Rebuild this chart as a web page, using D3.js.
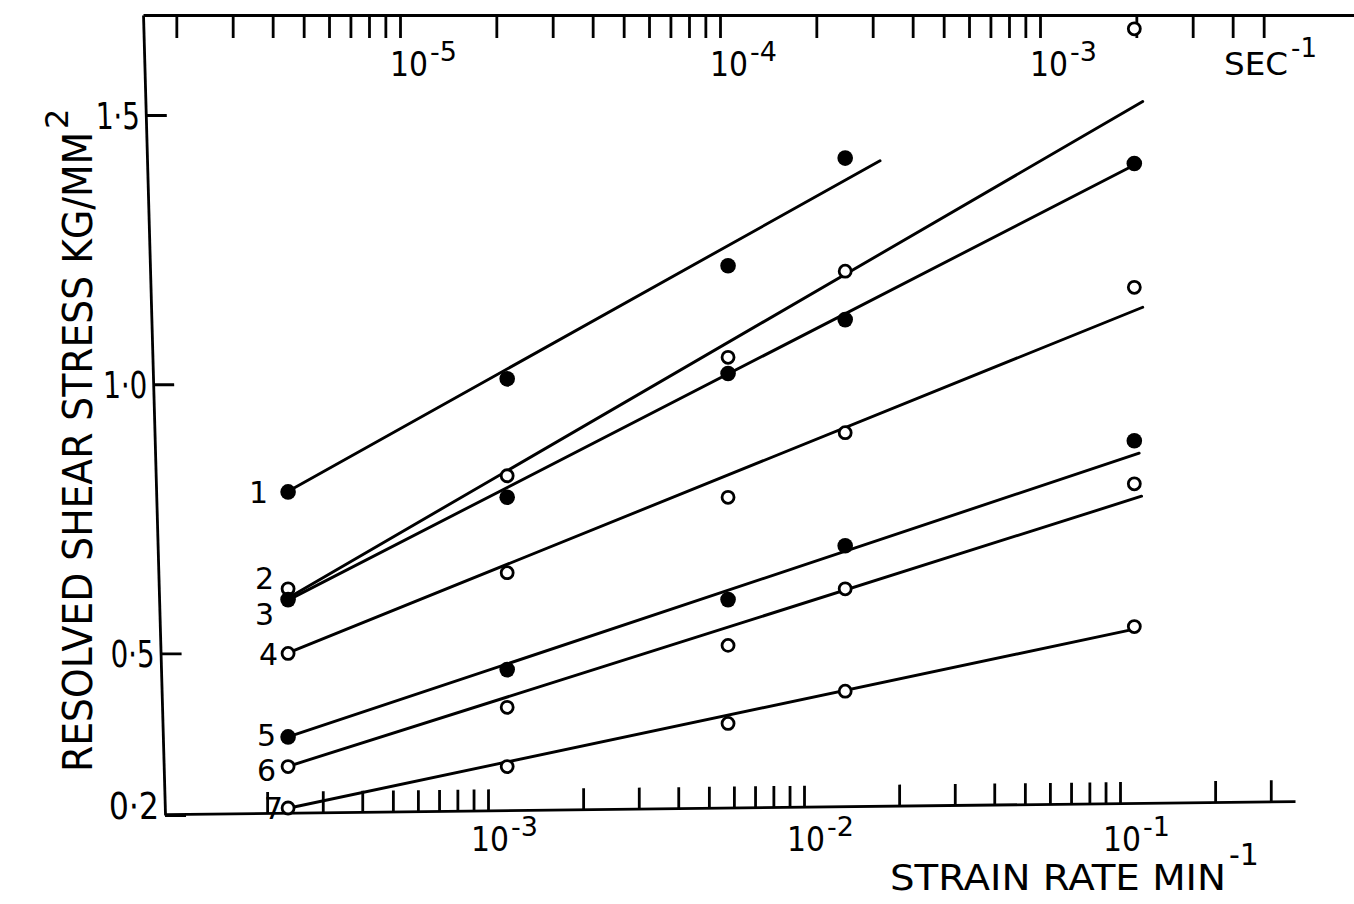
<!DOCTYPE html>
<meta charset="utf-8">
<script src="https://d3js.org/d3.v7.min.js"></script>
<style>
body { margin: 0; background: #fff; }
svg { display: block; }
.lettering { font-family: "DejaVu Sans", sans-serif; fill: #000; }
.ax path, .ax line { stroke: #000; stroke-width: 2.8; }
.fit { fill: none; stroke: #000; stroke-width: 2.9; }
</style>
<body>
<div id="canvas"></div>
<script>

// strain rate of each test column (min^-1)
var rates = [2.33e-4, 1.15e-3, 5.75e-3, 1.35e-2, 1.11e-1];

// resolved shear stress (kg/mm^2), one list per curve
var stress1 = [0.80, 1.01, 1.22, 1.42, null];
var stress2 = [0.62, 0.83, 1.05, 1.21, 1.66];
var stress3 = [0.60, 0.79, 1.02, 1.12, 1.41];
var stress4 = [0.50, 0.65, 0.79, 0.91, 1.18];
var stress5 = [0.345, 0.47, 0.60, 0.70, 0.895];
var stress6 = [0.29, 0.40, 0.515, 0.62, 0.815];
var stress7 = [0.213, 0.29, 0.37, 0.43, 0.55];

var curveNames = ["1", "2", "3", "4", "5", "6", "7"];
var curveFilled = [true, false, true, false, true, false, false];

// drawn straight lines: [rate from, stress from, rate to, stress to]
var fitLines = [
  [2.31e-4, 0.80, 1.74e-2, 1.415],
  [2.33e-4, 0.603, 1.18e-1, 1.525],
  [2.33e-4, 0.599, 1.11e-1, 1.407],
  [2.33e-4, 0.501, 1.18e-1, 1.143],
  [2.33e-4, 0.345, 1.15e-1, 0.872],
  [2.35e-4, 0.291, 1.17e-1, 0.792],
  [2.35e-4, 0.213, 1.15e-1, 0.547]
];

var yTicks = [0.2, 0.5, 1.0, 1.5];
var bottomDecades = [1e-3, 1e-2, 1e-1];
var bottomExp = ["-3", "-2", "-1"];
var topDecades = [1e-5, 1e-4, 1e-3];
var topExp = ["-5", "-4", "-3"];

var width = 1354, height = 904;

var svg = d3.select("#canvas").append("svg")
  .attr("width", width)
  .attr("height", height);

// scales -----------------------------------------------------------
var x = d3.scaleLog().domain([1e-3, 1e-1]).range([488, 1120]);
var xTop = d3.scaleLog().domain([1e-5, 1e-3]).range([400, 1040]);
var y = d3.scaleLinear().domain([0.2, 1.5]).range([815, 115]);

// bottom axis (min^-1), ticks pointing up --------------------------
var xb = x.copy().domain([x.invert(165), x.invert(1295)]).range([165, 1295]);
var bottomTicks = xb.ticks().filter(function(v) { return v > 1.5e-4 && v < 3.5e-1; });
svg.append("g")
  .attr("class", "ax")
  .attr("transform", "translate(0,816) skewY(-0.66)")
  .call(d3.axisTop(xb).tickValues(bottomTicks).tickSize(21).tickSizeOuter(0).tickFormat(""));

// top axis (sec^-1), ticks pointing down ---------------------------
var xt = xTop.copy().domain([xTop.invert(143), xTop.invert(1354)]).range([143, 1354]);
var topTicks = xt.ticks().filter(function(v) { return v > 1.5e-6 && v < 5.5e-3; });
svg.append("g")
  .attr("class", "ax")
  .attr("transform", "translate(0,15)")
  .call(d3.axisBottom(xt).tickValues(topTicks).tickSize(23).tickSizeOuter(0).tickFormat(""));

// left axis (slightly leaning, as drawn) ---------------------------
var yl = y.copy().domain([0.2, y.invert(15)]).range([815, 15]);
var yAxisG = svg.append("g")
  .attr("class", "ax")
  .attr("transform", "translate(142.6,0) skewX(1.575)")
  .call(d3.axisLeft(yl).tickValues(yTicks).tickSizeInner(-21).tickSizeOuter(0).tickPadding(6)
    .tickFormat(function(d) { return d3.format(".1f")(d).replace(".", "\u00b7"); }));
yAxisG.selectAll(".tick text")
  .attr("class", "lettering")
  .style("font-size", "37px")
  .attr("textLength", 44)
  .attr("lengthAdjust", "spacingAndGlyphs")
  .attr("dy", "0.36em");
yAxisG.selectAll(".tick text").filter(function(d) { return d === 0.2; })
  .attr("dy", "0.1em").attr("textLength", 50);

// decade labels ---------------------------------------------------
function decadeLabel(xpos, ybase, exp) {
  var t = svg.append("text").attr("class", "lettering")
    .attr("x", xpos).attr("y", ybase)
    .style("font-size", "34px");
  t.append("tspan").text("10").attr("textLength", 38).attr("lengthAdjust", "spacingAndGlyphs");
  t.append("tspan").text(exp)
    .attr("dy", -15).attr("dx", 2)
    .style("font-size", "27px");
}
bottomDecades.forEach(function(d, i) { decadeLabel(x(d) - 17, 851, bottomExp[i]); });
topDecades.forEach(function(d, i) { decadeLabel(xTop(d) - 10, 76, topExp[i]); });

// unit at top right
var sec = svg.append("text").attr("class", "lettering")
  .attr("x", 1224).attr("y", 75).style("font-size", "32px");
sec.append("tspan").text("SEC").attr("textLength", 64).attr("lengthAdjust", "spacingAndGlyphs");
sec.append("tspan").text("-1").attr("dy", -18).attr("dx", 3).style("font-size", "26px");

// axis titles -----------------------------------------------------
var xt1 = svg.append("text").attr("class", "lettering")
  .attr("x", 890).attr("y", 890).style("font-size", "35px");
xt1.append("tspan").text("STRAIN RATE  MIN").attr("textLength", 336).attr("lengthAdjust", "spacingAndGlyphs");
xt1.append("tspan").text("-1").attr("dy", -25).attr("dx", 3).style("font-size", "30px");

var yt = svg.append("text").attr("class", "lettering")
  .attr("transform", "translate(92,772) rotate(-90)")
  .style("font-size", "40px");
yt.append("tspan").text("RESOLVED SHEAR STRESS KG/MM").attr("textLength", 640).attr("lengthAdjust", "spacingAndGlyphs");
yt.append("tspan").text("2").attr("dy", -24).attr("dx", 3).style("font-size", "32px");

// fitted lines ------------------------------------------------------
svg.append("g").selectAll("line")
  .data(fitLines)
  .join("line")
  .attr("class", "fit")
  .attr("x1", function(d) { return x(d[0]); })
  .attr("y1", function(d) { return y(d[1]); })
  .attr("x2", function(d) { return x(d[2]); })
  .attr("y2", function(d) { return y(d[3]); })
  .attr("stroke-linecap", "round");

// data points -----------------------------------------------------
var allStress = [stress1, stress2, stress3, stress4, stress5, stress6, stress7];
var pts = [];
allStress.forEach(function(s, k) {
  s.forEach(function(v, i) {
    if (v !== null) pts.push({ rate: rates[i], stress: v, filled: curveFilled[k] });
  });
});

svg.append("g").selectAll("circle")
  .data(pts)
  .join("circle")
  .attr("cx", function(d) { return x(d.rate); })
  .attr("cy", function(d) { return y(d.stress); })
  .attr("r", function(d) { return d.filled ? 7.8 : 6.0; })
  .attr("fill", function(d) { return d.filled ? "#000" : "#fff"; })
  .attr("stroke", "#000")
  .attr("stroke-width", function(d) { return d.filled ? 0 : 2.8; });

// curve numbers -----------------------------------------------------
var labelNudge = [[-20, 0], [-14, -11], [-14, 15], [-10, 1], [-12, -2], [-12, 4], [-5, 0]];
svg.append("g").selectAll("text")
  .data(curveNames)
  .join("text")
  .attr("class", "lettering")
  .attr("text-anchor", "end")
  .style("font-size", "30px")
  .attr("x", function(d, i) { return x(rates[0]) + labelNudge[i][0]; })
  .attr("y", function(d, i) { return y(allStress[i][0]) + labelNudge[i][1]; })
  .attr("dy", "0.36em")
  .text(function(d) { return d; });

</script>
</body>
